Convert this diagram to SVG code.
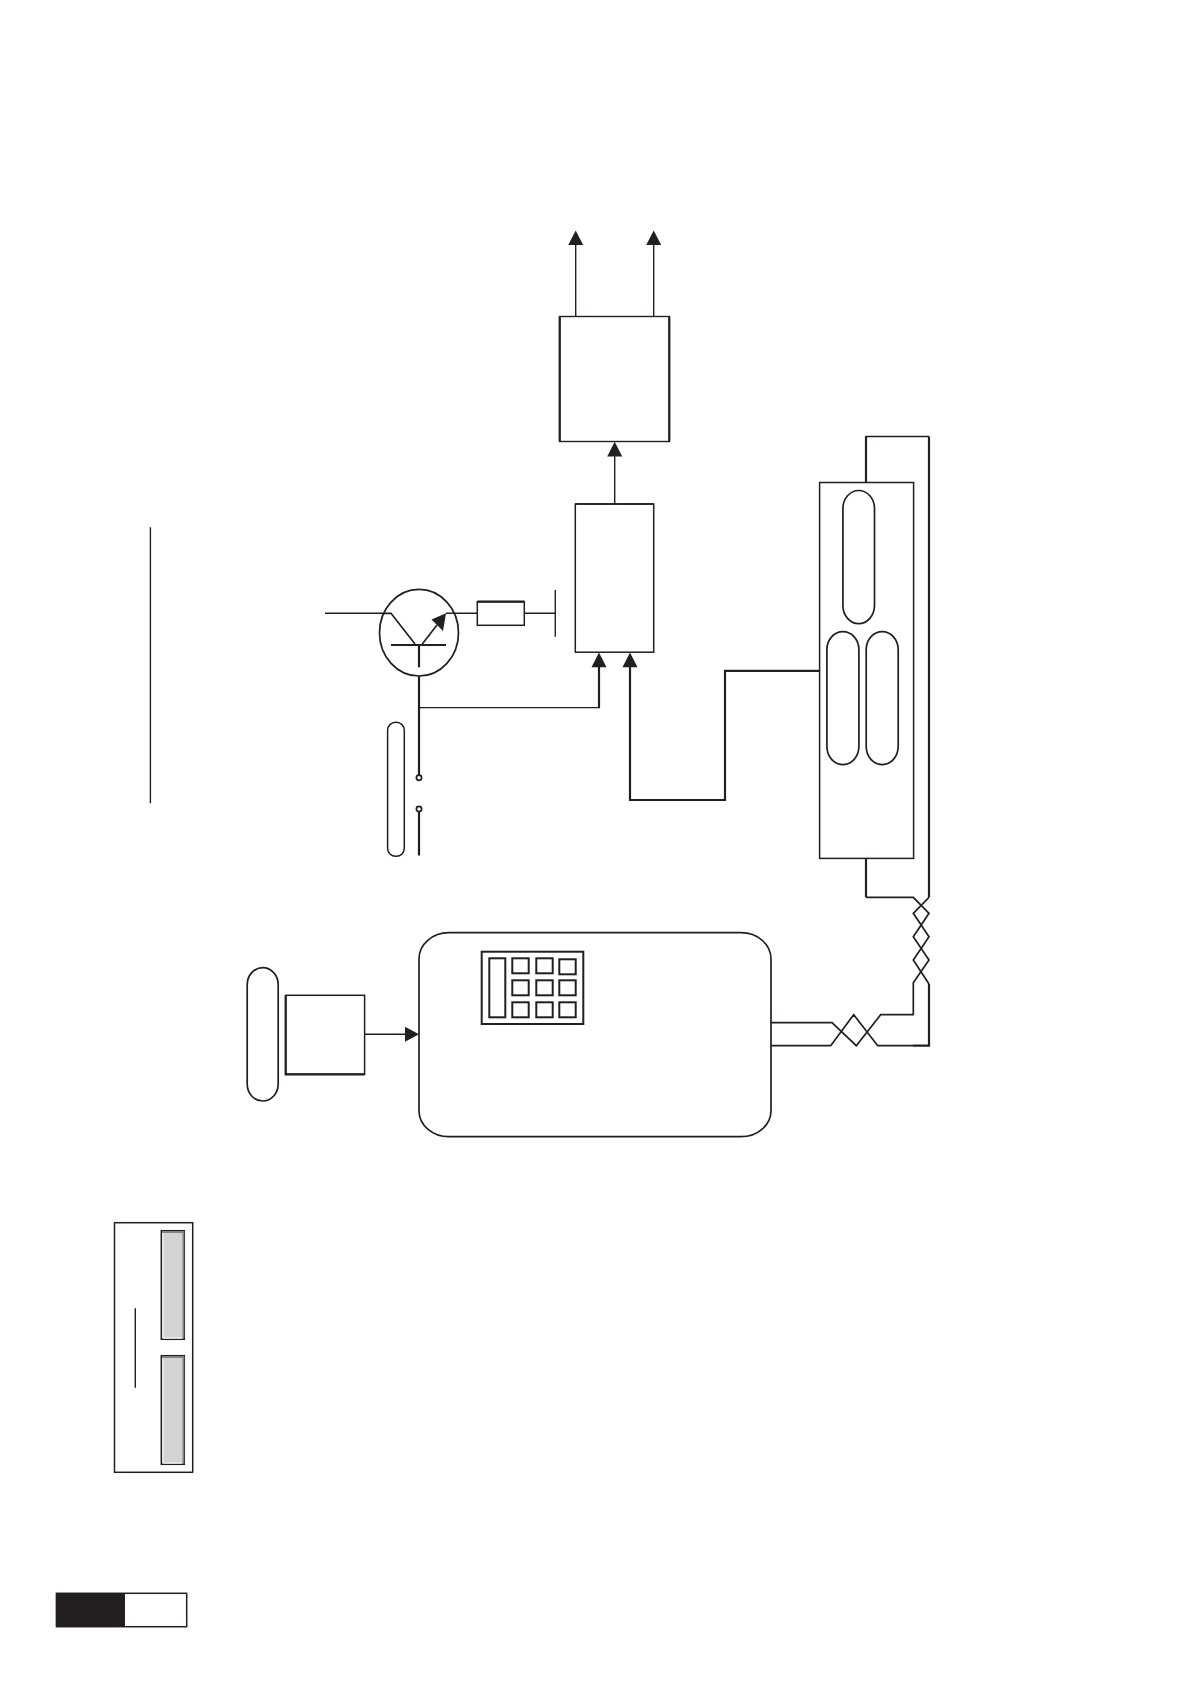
<svg xmlns="http://www.w3.org/2000/svg" width="1190" height="1684" viewBox="0 0 1190 1684">
<defs>
<style>
.n{fill:#fff;stroke:#231f20;stroke-width:1.5}
.k{fill:#fff;stroke:#231f20;stroke-width:2}
.l{fill:none;stroke:#231f20;stroke-width:1.4;stroke-linejoin:miter}
.w{fill:none;stroke:#231f20;stroke-width:1.7;stroke-linejoin:miter}
.t{fill:none;stroke:#231f20;stroke-width:2.2;stroke-linejoin:miter}
.a{fill:#231f20;stroke:none}
.g{fill:#d1d3d4;stroke:#231f20;stroke-width:1.5}
.s{fill:none;stroke:#808285;stroke-width:1.8}
.h{fill:none;stroke:#eceded;stroke-width:1.4}
</style>
<polygon id="up" class="a" points="0,0 -7.5,14.6 7.5,14.6"/>
</defs>
<rect width="1190" height="1684" fill="#fff"/>
<g id="connectors">
<path class="l" d="M575.7 244 V316.5 M653.7 244 V316.5 M614.7 455 V504"/>
<use href="#up" x="575.7" y="230.4"/>
<use href="#up" x="653.7" y="230.4"/>
<use href="#up" x="614.7" y="441.8"/>
<path class="t" d="M419 676 V775.5 M419 811.5 V855.4 M599 666 V707.6"/>
<path class="l" d="M419 707.6 H600"/>
<use href="#up" x="599" y="652.6"/>
<path class="t" d="M630 666 V800 H725 V670.9 H819.3"/>
<use href="#up" x="630" y="652.6"/>
<path class="l" d="M325 613.3 H383.3 M446 613.3 H477.3 M524.3 613.3 H555.3 M555.3 590 V636.7"/>
<path class="l" d="M364.6 1034.3 H405"/>
<polygon class="a" points="419,1034.3 405,1026.8 405,1041.8"/>
<path class="l" d="M866 482.5 V436.5 H929"/>
<path class="t" d="M866 482.5 V436.5 M929 436.5 V897.3"/>
<path class="t" d="M866 858.4 V897.3"/>
<path class="w" d="M866 897.3 H913.3 L929 913.3 L913.3 936.7 L929 960 L913.3 982.7 V1014.7 H880.7 L856.3 1045.7 L832 1022.7 H771"/>
<path class="w" d="M929 897.3 L913.3 913.3 L929 936.7 L913.3 960 L929 984"/>
<path class="t" d="M929 984 V1045.7 H913"/>
<path class="w" d="M913 1045.7 H877.7 L853.7 1014.7 L830.7 1045.7 H771"/>
</g>
<g id="box-top">
<rect class="l" x="559.7" y="316.5" width="109.6" height="125"/>
<path class="t" d="M559.7 316.5 V441.5 M669.3 316.5 V441.5"/>
</g>
<g id="box-mid"><rect class="n" x="575.3" y="504" width="78.4" height="148.2"/><path class="w" d="M575.3 504 H653.7"/></g>
<g id="transistor">
<ellipse class="w" cx="419" cy="632.7" rx="39.5" ry="43.3"/>
<path class="w" d="M383.3 613.3 H391 L415 644"/>
<path class="t" d="M391 645 H446 M419 645 V667.3"/>
<path class="w" d="M422.3 644 L437 625"/>
<polygon class="a" points="446,613.3 431.5,619.5 443,631"/>
</g>
<g id="resistor"><rect class="n" x="477.3" y="601.7" width="47" height="23.6"/><path class="t" d="M477.3 601.7 H524.3"/></g>
<g id="switch">
<circle class="w" cx="419" cy="777.7" r="2.6"/>
<circle class="w" cx="419" cy="808.9" r="2.6"/>
</g>
<g id="pill-switch"><rect class="n" x="387.6" y="722.3" width="16.7" height="134" rx="8" ry="8"/></g>
<g id="module">
<rect class="n" x="819.6" y="482.5" width="94" height="375.9"/>
<rect class="w" x="842.9" y="490.5" width="31.6" height="133.1" rx="15.8" ry="18"/>
<rect class="w" x="826.9" y="631.6" width="32" height="133" rx="16" ry="18"/>
<rect class="w" x="866.2" y="631.6" width="32" height="133" rx="16" ry="18"/>
</g>
<g id="main-unit"><rect class="w" x="419" y="932.7" width="352" height="204" rx="30" ry="26"/></g>
<g id="keypad">
<rect class="k" x="481.7" y="951.7" width="101.6" height="72.3"/>
<rect class="k" x="489.3" y="958.3" width="16" height="59"/>
<rect class="k" x="512.3" y="958.3" width="16.4" height="15"/>
<rect class="k" x="536.3" y="958.3" width="16.4" height="15"/>
<rect class="k" x="559.3" y="959.3" width="16.4" height="15"/>
<rect class="k" x="512.3" y="980.3" width="16.4" height="15"/>
<rect class="k" x="536.3" y="980.3" width="16.4" height="15"/>
<rect class="k" x="559.3" y="980.3" width="16.4" height="15"/>
<rect class="k" x="512.3" y="1002.3" width="16.4" height="15"/>
<rect class="k" x="536.3" y="1002.3" width="16.4" height="15"/>
<rect class="k" x="559.3" y="1002.3" width="16.4" height="15"/>
</g>
<g id="small-box">
<rect class="n" x="285.7" y="995.3" width="78.9" height="79"/>
<path class="t" d="M285.7 995.3 V1074.3 H364.6"/>
</g>
<g id="pill-left"><rect class="w" x="247.2" y="967.7" width="31" height="133.3" rx="15.5" ry="17"/></g>
<g id="long-line"><path class="l" d="M150.4 527.3 V803.3"/></g>
<g id="legend">
<rect class="n" x="114.5" y="1222.7" width="78.2" height="249.6"/>
<rect class="g" x="161.3" y="1230.7" width="23" height="108.6"/>
<path class="s" d="M162 1232 H183.4 V1338.5"/>
<path class="h" d="M163 1338 H182 M163 1233 V1338"/>
<rect class="g" x="161.3" y="1355.7" width="23" height="108.6"/>
<path class="s" d="M162 1357 H183.4 V1463.5"/>
<path class="h" d="M163 1463 H182 M163 1358 V1463"/>
<path class="l" d="M135.3 1308.3 V1387.7"/>
</g>
<g id="page-tab">
<rect x="56.4" y="1593.3" width="130.3" height="33.4" fill="#fff" stroke="#231f20" stroke-width="1.5"/>
<rect x="56.4" y="1593.3" width="68.6" height="33.4" fill="#231f20"/>
</g>
</svg>
